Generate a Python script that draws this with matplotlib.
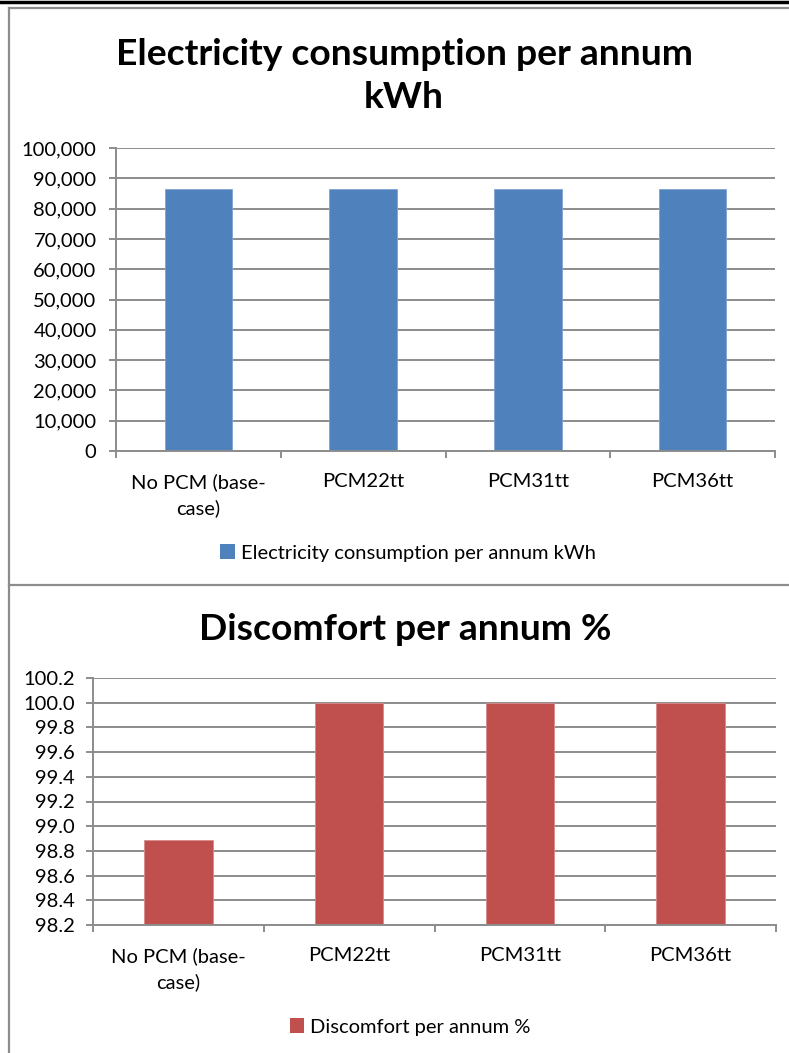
import matplotlib
matplotlib.use("Agg")
import matplotlib.pyplot as plt
from matplotlib.lines import Line2D
from matplotlib.patches import Patch
from matplotlib.ticker import FuncFormatter, MultipleLocator, FixedLocator
import numpy as np

plt.rcParams['font.family'] = ['Lato', 'DejaVu Sans']

categories = ["No PCM (base-\ncase)", "PCM22tt", "PCM31tt", "PCM36tt"]
electricity = [86400, 86400, 86400, 86400]
discomfort = [98.89, 100.0, 100.0, 100.0]

blue = "#4F81BD"
red = "#C0504D"
grid_c = "#8C8C8C"

W, H = 789, 1053
fig = plt.figure(figsize=(W / 100, H / 100), dpi=100)


def fx(px):
    return px / W


def fy(py):
    return 1 - py / H


def style_axes(ax, ymin, ymax, step, fmt, lpad):
    x = np.arange(len(categories))
    ax.set_xlim(-0.5, len(categories) - 0.5)
    ax.set_ylim(ymin, ymax)
    ax.yaxis.set_major_locator(MultipleLocator(step))
    ax.yaxis.set_major_formatter(FuncFormatter(fmt))
    ax.grid(axis="y", color=grid_c, linewidth=1.4)
    ax.set_axisbelow(True)
    for s in ["top", "right"]:
        ax.spines[s].set_visible(False)
    for s in ["left", "bottom"]:
        ax.spines[s].set_color(grid_c)
        ax.spines[s].set_linewidth(1.4)
    ax.set_xticks(x)
    ax.set_xticklabels(categories, fontsize=14.5, linespacing=1.55)
    ax.xaxis.set_minor_locator(FixedLocator(np.arange(-0.5, len(categories), 1.0)))
    ax.tick_params(axis="x", which="major", length=0, pad=16)
    ax.tick_params(axis="x", which="minor", length=5, color=grid_c, width=1.4)
    ax.tick_params(axis="y", length=5, color=grid_c, width=1.4, labelsize=14.5, pad=lpad)
    return x


# top chart
ax1 = fig.add_axes([fx(116), fy(451), fx(775) - fx(116), fy(148) - fy(451)])
x = style_axes(ax1, 0, 100000, 10000, lambda v, p: f"{v:,.0f}", 9)
ax1.bar(x, electricity, width=0.41, color=blue, edgecolor="#7FA3D3", linewidth=0.6)
fig.text(fx(404), fy(76), "Electricity consumption per annum\nkWh", ha="center", va="center",
         fontsize=26.8, fontweight="bold", linespacing=1.38)
fig.legend(handles=[Patch(facecolor=blue, label="Electricity consumption per annum kWh")],
           loc="center", bbox_to_anchor=(fx(408), fy(553)), frameon=False, fontsize=14.5,
           handlelength=0.7, handleheight=0.7, handletextpad=0.3)

# bottom chart
ax2 = fig.add_axes([fx(93), fy(925), fx(776) - fx(93), fy(678) - fy(925)])
x = style_axes(ax2, 98.2, 100.2, 0.2, lambda v, p: f"{v:.1f}", 8)
ax2.bar(x, discomfort, width=0.4, color=red, edgecolor="#D98B89", linewidth=0.6)
fig.text(fx(405), fy(630), "Discomfort per annum %", ha="center", va="center",
         fontsize=26.8, fontweight="bold")
fig.legend(handles=[Patch(facecolor=red, label="Discomfort per annum %")],
           loc="center", bbox_to_anchor=(fx(410), fy(1027)), frameon=False, fontsize=14.5,
           handlelength=0.7, handleheight=0.7, handletextpad=0.3)

# frame lines
fig.add_artist(Line2D([0, 1], [fy(2), fy(2)], color="black", linewidth=2.5))
fig.add_artist(Line2D([fx(9), 1], [fy(7.5), fy(7.5)], color=grid_c, linewidth=1.6))
fig.add_artist(Line2D([fx(9), fx(9)], [fy(7.5), 0], color=grid_c, linewidth=1.6))
fig.add_artist(Line2D([fx(9), 1], [fy(585), fy(585)], color=grid_c, linewidth=1.6))

fig.savefig("out.png", dpi=100)
